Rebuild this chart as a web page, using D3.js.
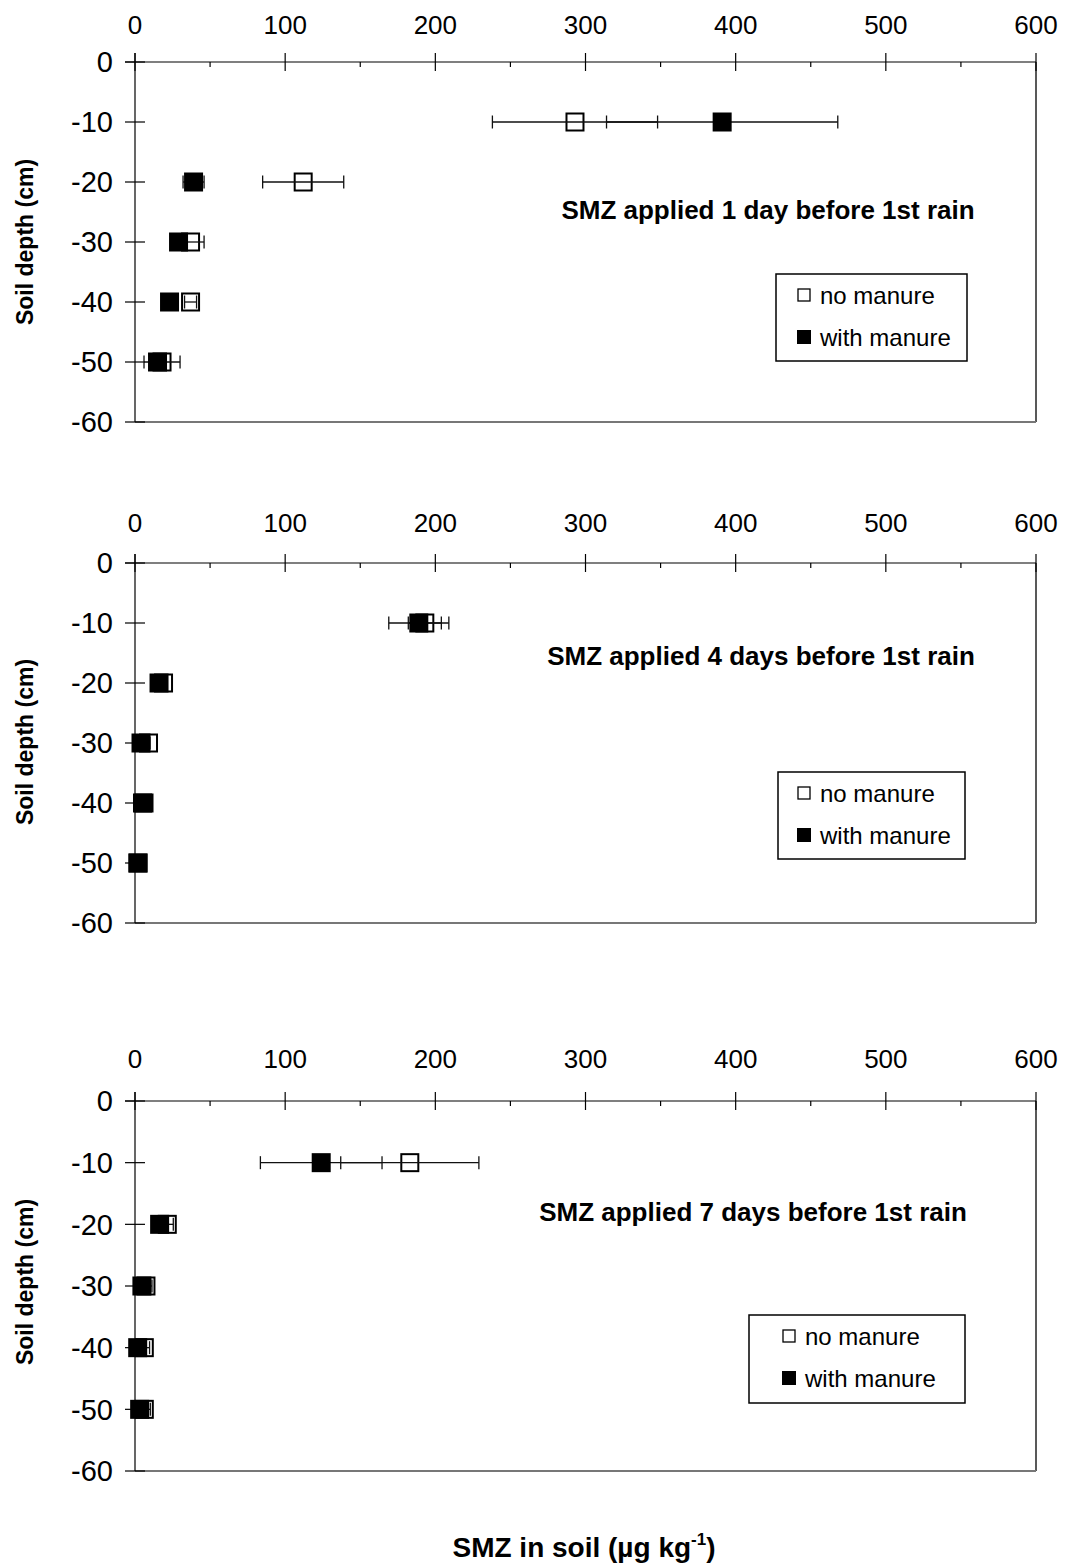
<!DOCTYPE html>
<html><head><meta charset="utf-8">
<script src="https://cdn.jsdelivr.net/npm/d3@7"></script>
<style>
body{margin:0;background:#fff}
svg{display:block}
text{font-family:"Liberation Sans",Arial,sans-serif;fill:#000}
</style>
</head><body>
<svg id="chart" width="1068" height="1564"></svg>
<script>
// ---------- data ----------
const depths = [-10, -20, -30, -40, -50];
const xTickValues = [0, 100, 200, 300, 400, 500, 600];
const xMinorValues = [50, 150, 250, 350, 450, 550];
const yTickValues = [0, -10, -20, -30, -40, -50, -60];
const seriesNames = ["no manure", "with manure"];
const panelTitles = [
  "SMZ applied 1 day before 1st rain",
  "SMZ applied 4 days before 1st rain",
  "SMZ applied 7 days before 1st rain"
];
const yAxisTitle = "Soil depth (cm)";

const p1NoManure = [293, 112, 37, 37, 18];
const p1NoManureErr = [55, 27, 9, 4, 12];
const p1WithManure = [391, 39, 29, 23, 15];
const p1WithManureErr = [77, 7, 4, 3, 5];

const p2NoManure = [193, 19, 9, 6, 2];
const p2NoManureErr = [11, 1, 1, 1, 1];
const p2WithManure = [189, 16, 4, 5, 2];
const p2WithManureErr = [20, 1, 1, 1, 1];

const p3NoManure = [183, 21.5, 7.3, 6.2, 6.2];
const p3NoManureErr = [46, 4, 4, 3.5, 4];
const p3WithManure = [124, 16.4, 4.6, 1.8, 3.1];
const p3WithManureErr = [40.5, 2, 2, 2, 2];

// ---------- layout ----------
const panels = [
  {no: p1NoManure, noErr: p1NoManureErr, wm: p1WithManure, wmErr: p1WithManureErr,
   top: 62, bottom: 422, xLab: 34, title: [768, 219], leg: [776, 274, 191, 87], legMk: 804, legTx: 820, yTitle: 242},
  {no: p2NoManure, noErr: p2NoManureErr, wm: p2WithManure, wmErr: p2WithManureErr,
   top: 563, bottom: 923, xLab: 532, title: [761, 665], leg: [778, 772, 187, 87], legMk: 804, legTx: 820, yTitle: 742},
  {no: p3NoManure, noErr: p3NoManureErr, wm: p3WithManure, wmErr: p3WithManureErr,
   top: 1101, bottom: 1471, xLab: 1068, title: [753, 1221], leg: [749, 1315, 216, 88], legMk: 789, legTx: 805, yTitle: 1282}
];

const svg = d3.select("#chart");
const x = d3.scaleLinear().domain([0, 600]).range([135, 1036]);
const MK = 19;

panels.forEach((p, pi) => {
  const y = d3.scaleLinear().domain([0, -60]).range([p.top, p.bottom]);
  const g = svg.append("g");

  // plot area border (right + bottom)
  g.append("line").attr("x1", x(600)).attr("x2", x(600)).attr("y1", y(0)).attr("y2", y(-60))
    .attr("stroke", "#222").attr("stroke-width", 1.5);
  g.append("line").attr("x1", x(0)).attr("x2", x(600)).attr("y1", y(-60)).attr("y2", y(-60))
    .attr("stroke", "#777").attr("stroke-width", 2);

  // x axis (top, at y=0)
  g.append("line").attr("x1", x(0) - 10).attr("x2", x(600)).attr("y1", y(0)).attr("y2", y(0))
    .attr("stroke", "#000").attr("stroke-width", 1.2);
  g.selectAll(".xmaj").data(xTickValues).join("line")
    .attr("x1", d => x(d)).attr("x2", d => x(d))
    .attr("y1", y(0) - 9).attr("y2", y(0) + 9)
    .attr("stroke", "#000").attr("stroke-width", 1.2);
  g.selectAll(".xmin").data(xMinorValues).join("line")
    .attr("x1", d => x(d)).attr("x2", d => x(d))
    .attr("y1", y(0)).attr("y2", y(0) + 5)
    .attr("stroke", "#000").attr("stroke-width", 1.2);
  g.selectAll(".xlab").data(xTickValues).join("text")
    .attr("x", d => x(d)).attr("y", p.xLab)
    .attr("text-anchor", "middle").attr("font-size", 26)
    .text(d => d);

  // y axis (left, at x=0)
  g.append("line").attr("x1", x(0)).attr("x2", x(0)).attr("y1", y(0) - 9).attr("y2", y(-60))
    .attr("stroke", "#000").attr("stroke-width", 1.2);
  g.selectAll(".ymaj").data(yTickValues).join("line")
    .attr("x1", x(0) - 10).attr("x2", x(0) + 10)
    .attr("y1", d => y(d)).attr("y2", d => y(d))
    .attr("stroke", "#000").attr("stroke-width", 1.2);
  g.selectAll(".ylab").data(yTickValues).join("text")
    .attr("x", 113).attr("y", d => y(d)).attr("dy", "0.36em")
    .attr("text-anchor", "end").attr("font-size", 29)
    .text(d => d);

  // y axis title
  g.append("text").attr("transform", `translate(33,${p.yTitle}) rotate(-90)`)
    .attr("text-anchor", "middle").attr("font-size", 23).attr("font-weight", "bold")
    .text(yAxisTitle);

  // panel title
  g.append("text").attr("x", p.title[0]).attr("y", p.title[1])
    .attr("text-anchor", "middle").attr("font-size", 26).attr("font-weight", "bold")
    .text(panelTitles[pi]);

  // series: no manure (open), then with manure (filled)
  const drawErr = (vals, errs) => {
    const eg = g.append("g").attr("stroke", "#111").attr("stroke-width", 1.3);
    depths.forEach((dp, i) => {
      const cy = y(dp), x1 = x(vals[i] - errs[i]), x2 = x(vals[i] + errs[i]);
      eg.append("line").attr("x1", x1).attr("x2", x2).attr("y1", cy).attr("y2", cy);
      eg.append("line").attr("x1", x1).attr("x2", x1).attr("y1", cy - 6.5).attr("y2", cy + 6.5);
      eg.append("line").attr("x1", x2).attr("x2", x2).attr("y1", cy - 6.5).attr("y2", cy + 6.5);
    });
  };
  g.selectAll(".open").data(depths).join("rect")
    .attr("x", (d, i) => x(p.no[i]) - (MK - 2) / 2).attr("y", d => y(d) - (MK - 2) / 2)
    .attr("width", MK - 2).attr("height", MK - 2)
    .attr("fill", "#fff").attr("stroke", "#000").attr("stroke-width", 2);
  drawErr(p.no, p.noErr);
  drawErr(p.wm, p.wmErr);
  g.selectAll(".filled").data(depths).join("rect")
    .attr("x", (d, i) => x(p.wm[i]) - MK / 2).attr("y", d => y(d) - MK / 2)
    .attr("width", MK).attr("height", MK)
    .attr("fill", "#000");

  // legend
  const [lx, ly, lw, lh] = p.leg;
  const lg = g.append("g");
  lg.append("rect").attr("x", lx).attr("y", ly).attr("width", lw).attr("height", lh)
    .attr("fill", "#fff").attr("stroke", "#000").attr("stroke-width", 1.5);
  const r1 = ly + 21, r2 = ly + 63;
  lg.append("rect").attr("x", p.legMk - 6).attr("y", r1 - 6).attr("width", 12).attr("height", 12)
    .attr("fill", "#fff").attr("stroke", "#000").attr("stroke-width", 1.3);
  lg.append("rect").attr("x", p.legMk - 7).attr("y", r2 - 7).attr("width", 14).attr("height", 14)
    .attr("fill", "#000");
  lg.append("text").attr("x", p.legTx).attr("y", r1).attr("dy", "0.36em").attr("font-size", 24).text(seriesNames[0]);
  lg.append("text").attr("x", p.legTx).attr("y", r2).attr("dy", "0.36em").attr("font-size", 24).text(seriesNames[1]);
});

// bottom x axis title
const bt = svg.append("text").attr("x", 584).attr("y", 1557)
  .attr("text-anchor", "middle").attr("font-size", 28).attr("font-weight", "bold");
bt.append("tspan").text("SMZ in soil (\u00b5g kg");
bt.append("tspan").attr("font-size", 17).attr("dy", -12).text("-1");
bt.append("tspan").attr("dy", 12).text(")");
</script>
</body></html>
